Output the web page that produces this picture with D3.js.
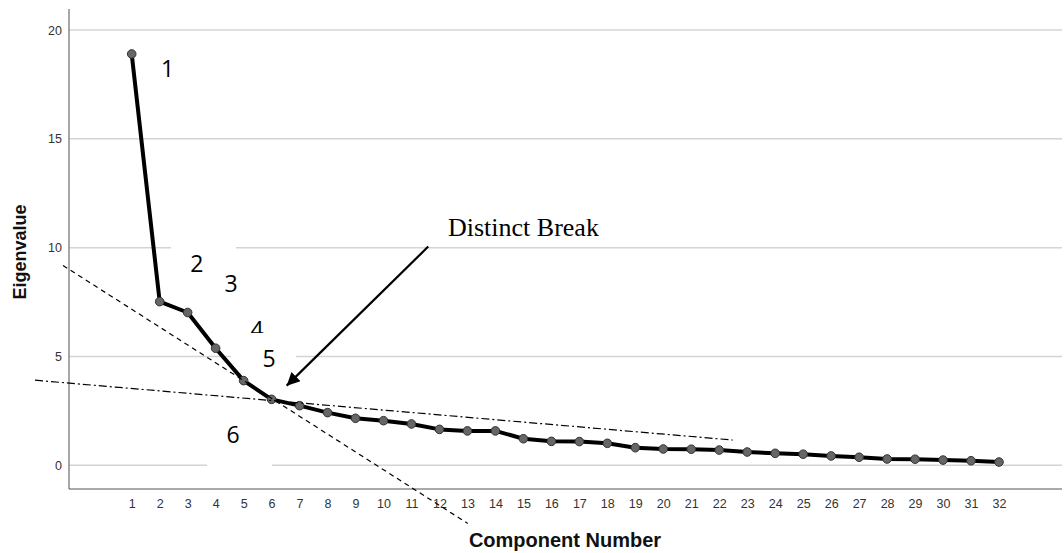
<!DOCTYPE html>
<html>
<head>
<meta charset="utf-8">
<script src="https://cdn.jsdelivr.net/npm/d3@7"></script>
<style>
  body { margin: 0; background: #fff; }
  svg { display: block; }
  .tick text { font-family: "Liberation Sans", Arial, sans-serif; font-size: 12.5px; fill: #333; }
</style>
</head>
<body>
<div id="chart"></div>
<script>
// component numbers and eigenvalues
let components = d3.range(1, 33);
let eigenvalues = [18.9, 7.52, 7.02, 5.38, 3.89, 3.03, 2.74, 2.42, 2.16, 2.05,
                   1.90, 1.65, 1.58, 1.58, 1.22, 1.10, 1.09, 1.01, 0.81, 0.75,
                   0.74, 0.70, 0.61, 0.55, 0.51, 0.43, 0.37, 0.29, 0.28, 0.24,
                   0.21, 0.15];
let yTicks = [0, 5, 10, 15, 20];

// hand drawn annotations (in data units)
let steepLine = [[-1.455, 9.18], [13.01, -2.67]];
let flatLine = [[-2.456, 3.91], [22.48, 1.16]];
let arrowLine = [[11.6, 10.05], [6.54, 3.66]];
let numberLabels = ["1", "2", "3", "4", "5", "6"];
let numberPos = [[2.28, 17.85], [3.33, 8.86], [4.55, 7.95], [5.48, 5.85], [5.91, 4.5], [4.62, 1.03]];

let width = 1064, height = 553;
let svg = d3.select("#chart")
    .append("svg")
    .attr("width", width)
    .attr("height", height);

let x = d3.scaleLinear().domain([1, 32]).range([131.7, 999]);
let y = d3.scaleLinear().domain([0, 20]).range([465.3, 30]);

let plotLeft = 69, plotRight = 1062, plotTop = 9, plotBottom = 489;

// gridlines
svg.selectAll(".grid")
    .data(yTicks)
    .enter()
    .append("line")
    .attr("class", "grid")
    .attr("x1", plotLeft)
    .attr("x2", plotRight)
    .attr("y1", d => y(d))
    .attr("y2", d => y(d))
    .attr("stroke", "#d4d4d4")
    .attr("stroke-width", 1.5);

// white text boxes pasted over the chart (they only hide gridlines)
let boxes = [[171, 240, 65, 40], [231, 333, 65, 38], [207, 420, 65, 50]];
svg.selectAll(".box")
    .data(boxes)
    .enter()
    .append("rect")
    .attr("class", "box")
    .attr("x", d => d[0])
    .attr("y", d => d[1])
    .attr("width", d => d[2])
    .attr("height", d => d[3])
    .attr("fill", "#fff");

// axes
let yAxis = svg.append("g")
    .attr("transform", "translate(" + plotLeft + ",0)")
    .call(d3.axisLeft(y).tickValues(yTicks).tickSize(0).tickPadding(7));
yAxis.select(".domain").remove();

let xAxis = svg.append("g")
    .attr("transform", "translate(0," + plotBottom + ")")
    .call(d3.axisBottom(x).tickValues(components).tickFormat(d3.format("d")).tickSize(0).tickPadding(10));
xAxis.select(".domain").remove();

svg.append("line")
    .attr("x1", plotLeft).attr("x2", plotLeft)
    .attr("y1", plotTop).attr("y2", plotBottom)
    .attr("stroke", "#8a8a8a")
    .attr("stroke-width", 1.5);
svg.append("line")
    .attr("x1", plotLeft).attr("x2", plotRight)
    .attr("y1", plotBottom).attr("y2", plotBottom)
    .attr("stroke", "#555")
    .attr("stroke-width", 1);

// axis titles
svg.append("text")
    .attr("transform", "translate(26,252) rotate(-90)")
    .attr("text-anchor", "middle")
    .style("font-family", "Liberation Sans, Arial, sans-serif")
    .style("font-weight", "bold")
    .style("font-size", "18px")
    .style("fill", "#111")
    .text("Eigenvalue");

svg.append("text")
    .attr("x", 565)
    .attr("y", 547)
    .attr("text-anchor", "middle")
    .style("font-family", "Liberation Sans, Arial, sans-serif")
    .style("font-weight", "bold")
    .style("font-size", "20px")
    .style("fill", "#111")
    .text("Component Number");

// scree line
let line = d3.line()
    .x((d, i) => x(components[i]))
    .y(d => y(d));

svg.append("path")
    .datum(eigenvalues)
    .attr("d", line)
    .attr("fill", "none")
    .attr("stroke", "#000")
    .attr("stroke-width", 4)
    .attr("stroke-linejoin", "round");

svg.selectAll(".dot")
    .data(eigenvalues)
    .enter()
    .append("circle")
    .attr("class", "dot")
    .attr("cx", (d, i) => x(components[i]))
    .attr("cy", d => y(d))
    .attr("r", 4.3)
    .attr("fill", "#666")
    .attr("stroke", "#333")
    .attr("stroke-width", 1);

// trend lines
let pline = d3.line().x(d => x(d[0])).y(d => y(d[1]));
svg.append("path")
    .attr("d", pline(steepLine))
    .attr("stroke", "#000")
    .attr("stroke-width", 1.2)
    .attr("stroke-dasharray", "5,4")
    .attr("fill", "none");
svg.append("path")
    .attr("d", pline(flatLine))
    .attr("stroke", "#000")
    .attr("stroke-width", 1.2)
    .attr("stroke-dasharray", "8,3,2,3")
    .attr("fill", "none");

// arrow
svg.append("defs")
    .append("marker")
    .attr("id", "head")
    .attr("viewBox", "0 0 10 10")
    .attr("refX", 10)
    .attr("refY", 5)
    .attr("markerUnits", "userSpaceOnUse")
    .attr("markerWidth", 16)
    .attr("markerHeight", 13)
    .attr("orient", "auto")
    .append("path")
    .attr("d", "M0,0L10,5L0,10Z")
    .attr("fill", "#000");

svg.append("path")
    .attr("d", pline(arrowLine))
    .attr("stroke", "#000")
    .attr("stroke-width", 2.2)
    .attr("fill", "none")
    .attr("marker-end", "url(#head)");

svg.append("text")
    .attr("x", 448)
    .attr("y", 236)
    .style("font-family", "Liberation Serif, Times New Roman, serif")
    .style("font-size", "26px")
    .style("fill", "#000")
    .text("Distinct Break");

// component numbers ("4" is cut off by the box of "5")
svg.append("clipPath")
    .attr("id", "clip4")
    .append("rect")
    .attr("x", 0).attr("y", 0)
    .attr("width", width).attr("height", 333);

svg.selectAll(".num")
    .data(numberLabels)
    .enter()
    .append("text")
    .attr("class", "num")
    .attr("x", (d, i) => x(numberPos[i][0]))
    .attr("y", (d, i) => y(numberPos[i][1]))
    .attr("text-anchor", "middle")
    .attr("clip-path", d => d === "4" ? "url(#clip4)" : null)
    .style("font-family", "Open Sans, Noto Sans, sans-serif")
    .style("font-size", "23px")
    .style("fill", "#000")
    .text(d => d);
</script>
</body>
</html>
